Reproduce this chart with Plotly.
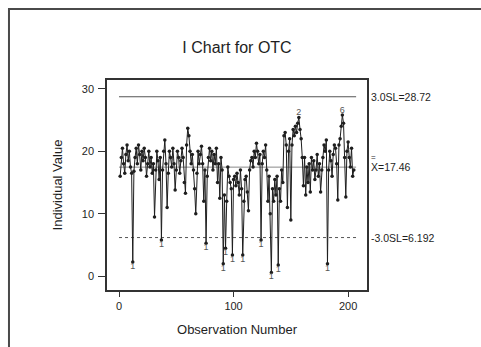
import plotly.graph_objects as go

# ---- data ----
values = [
    16, 19, 20.5, 18, 16.5, 19.5, 21, 18.5, 20, 17.5,
    16.5, 2.3, 16.8, 19, 20.5, 18, 21, 19.5, 17, 20,
    18.5, 20.5, 19, 16, 18, 20, 17.5, 19, 16.5, 18,
    9.5, 17, 20, 18.5, 15.5, 19, 5.8, 17, 20, 21.8,
    18, 11, 16.5, 20, 19, 17.5, 20.5, 18, 13.8, 17,
    20, 19, 16.5, 18.5, 20.5, 19, 15, 13.3, 21, 23.7,
    22.5, 20, 18, 19.5, 17, 14, 10, 16.5, 20, 18,
    19.5, 20.8, 18, 12, 17, 5.3, 16, 19, 20.5, 18.5,
    20, 17, 19.5, 18, 20.5, 15, 18, 12.5, 19, 17,
    2, 13, 4.5, 12, 17.5, 16, 15, 14, 3.4, 15.5,
    16, 14.5, 16.5, 15, 13, 17, 14, 3.4, 12, 15.5,
    16, 13.5, 10.5, 17, 18.5, 19, 17.5, 20, 19, 21.3,
    20, 18, 19.5, 5.8, 18, 20, 19, 21, 17, 12,
    16, 10, 0.6, 14, 12, 15.5, 13, 16, 1.8, 14,
    12, 17, 15, 22.5, 23, 21, 11, 20, 22, 9,
    21, 23.5, 22.5, 24, 23, 24.5, 25.4, 23.5, 22, 19,
    14.5, 19, 13, 17.5, 15, 18, 13.5, 19, 17, 18.5,
    15.5, 17, 19.5, 16, 18, 13.5, 17, 19, 21, 20,
    21.8, 2, 17, 20, 18.5, 16, 19.5, 21, 20.5, 18,
    12.2, 21, 22, 24, 25.8, 24.5, 19, 12.7, 20, 21.5,
    19, 17.5, 20.5, 16, 17,
]
obs = list(range(1, len(values) + 1))

UCL = 28.72
CL = 17.46
LCL = 6.192

x_ticks = [0, 100, 200]
y_ticks = [0, 10, 20, 30]

# extra test-failure flags (observation, label)
extra_flag_obs = [157, 195]
extra_flag_lbl = ["2", "6"]

ink = "#1e1e1e"
font_family = "Liberation Sans, Arial, sans-serif"

fig = go.Figure()

# control limit lines
line_x = [0, 207]
fig.add_trace(go.Scatter(x=line_x, y=[UCL, UCL], mode="lines",
                         line=dict(color="#555555", width=1), hoverinfo="skip"))
fig.add_trace(go.Scatter(x=line_x, y=[CL, CL], mode="lines",
                         line=dict(color="#8a8a8a", width=1), hoverinfo="skip"))
fig.add_trace(go.Scatter(x=line_x, y=[LCL, LCL], mode="lines",
                         line=dict(color="#555555", width=1, dash="dot"), hoverinfo="skip"))

# data
fig.add_trace(go.Scatter(x=obs, y=values, mode="lines+markers",
                         line=dict(color=ink, width=1),
                         marker=dict(color=ink, size=3.5)))

# "1" flags below points beyond LCL
f_x = [o for o, v in zip(obs, values) if v < LCL]
f_y = [v for v in values if v < LCL]
fig.add_trace(go.Scatter(x=f_x, y=f_y, mode="text", text=["1"] * len(f_x),
                         textposition="bottom center",
                         textfont=dict(size=9, color="#555555", family=font_family)))
e_y = [values[o - 1] for o in extra_flag_obs]
fig.add_trace(go.Scatter(x=extra_flag_obs, y=e_y, mode="text", text=extra_flag_lbl,
                         textposition="top center",
                         textfont=dict(size=9, color="#555555", family=font_family)))

# right-side labels
lbl_font = dict(size=10.5, color=ink, family=font_family)
for yv, txt in [(UCL, "3.0SL=28.72"), (CL, "X=17.46"), (LCL, "-3.0SL=6.192")]:
    fig.add_annotation(x=1.008, xref="paper", y=yv, yref="y", text=txt,
                       showarrow=False, xanchor="left", yanchor="middle", font=lbl_font)
fig.add_annotation(x=1.008, xref="paper", y=CL + 1.5, yref="y", text="=",
                   showarrow=False, xanchor="left", yanchor="middle",
                   font=dict(size=8, color=ink, family=font_family))

# outer frame (left and top edges)
fig.add_shape(type="path", xref="paper", yref="paper",
              path="M -0.377,-0.5 L -0.377,1.338 L 1.6,1.338",
              line=dict(color="#4a4a4a", width=2))

fig.update_layout(
    width=481, height=347,
    margin=dict(l=107, r=114, t=80, b=57),
    paper_bgcolor="white", plot_bgcolor="white",
    showlegend=False,
    title=dict(text="I Chart for OTC", x=0.5, xref="paper", xanchor="center",
               y=1 - 47 / 347, yanchor="middle",
               font=dict(size=16, color=ink, family=font_family)),
    font=dict(family=font_family, color=ink),
)
fig.update_xaxes(range=[-10.5, 216.5], tickvals=x_ticks, ticktext=[str(t) for t in x_ticks],
                 showgrid=False, zeroline=False, showline=True, mirror=True,
                 linecolor="#333333", linewidth=1.5, ticks="outside", ticklen=5,
                 tickcolor="#333333", tickfont=dict(size=11, color=ink),
                 title=dict(text="Observation Number", standoff=14,
                            font=dict(size=13, color=ink)))
fig.update_yaxes(range=[-2.2, 31.4], tickvals=y_ticks, ticktext=[str(t) for t in y_ticks],
                 showgrid=False, zeroline=False, showline=True, mirror=True,
                 linecolor="#333333", linewidth=1.5, ticks="outside", ticklen=7,
                 tickcolor="#333333", tickfont=dict(size=11, color=ink),
                 ticklabelstandoff=2,
                 title=dict(text="Individual Value", standoff=16,
                            font=dict(size=13, color=ink)))

fig.write_html("out.html", config={"displayModeBar": False},
               post_script="document.body.style.margin='0';")
